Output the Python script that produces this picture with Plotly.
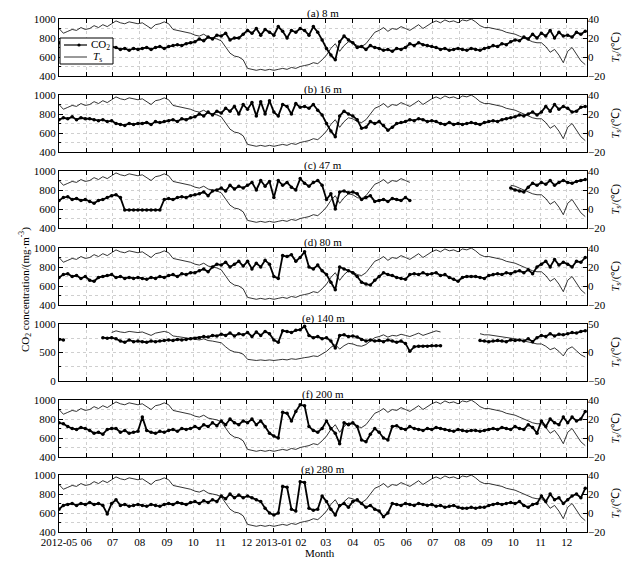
import pandas as pd
import plotly.graph_objects as go

# 5-day sampling of the daily records, May 2012 - Dec 2013
dates = pd.date_range("2012-05-01", periods=121, freq="5D")
month_ticks = pd.date_range("2012-05-01", "2013-12-01", freq="MS")
month_labels = ["2012-05", "06", "07", "08", "09", "10", "11", "12",
                "2013-01", "02", "03", "04", "05", "06", "07", "08", "09", "10", "11", "12"]

panel_titles = ["(a) 8 m", "(b) 16 m", "(c) 47 m", "(d) 80 m",
                "(e) 140 m", "(f) 200 m", "(g) 280 m"]

# air temperature (deg C), shared by all heights
ts = [30, 25, 27, 29, 28, 31, 29,
      30, 33, 31, 34, 32, 35,
      38, 36, 35, 37, 36, 35,
      36, 33, 30, 34, 35, 37,
      35, 29, 28, 27, 26, 25,
      23, 22, 24, 21, 20, 19,
      17, 10, 4, 1, 0, -3,
      -12, -13, -14, -13, -14, -13,
      -14, -13, -12, -13, -11, -12, -10,
      -9, -8, -6, -7, -3,
      2, 9, 14, 6, 12, 16,
      15, 12, 11, 14, 20, 26,
      28, 31, 27, 30, 29, 32, 30,
      28, 31, 34, 30, 33, 36,
      38, 36, 39, 37, 38, 36,
      39, 38, 40, 37, 33, 31,
      31, 30, 29, 28, 26, 25,
      24, 22, 20, 18, 16, 15,
      15, 11, 5, 8, 2, -6,
      6, 10, 3, -4, -8]

co2_a = [750, 720, 700, 690, 700, 690, 700,
         690, 700, 710, 690, 700, 710,
         700, 680, 690, 670, 690, 680,
         690, 700, 680, 700, 710, 690,
         710, 720, 730, 720, 740, 750,
         760, 790, 770, 810, 790, 830,
         820, 850, 780, 800, 800, 840,
         880, 850, 900, 830, 890, 860,
         830, 920, 870, 800, 880, 860, 900,
         880, 830, 920, 860, 780,
         690, 620, 570, 760, 820, 780,
         750, 700, 710, 680, 720, 700,
         690, 670, 680, 660, 690, 680, 700,
         740, 720, 750, 730, 720, 710,
         700, 680, 690, 670, 680, 690,
         680, 670, 690, 680, 670, 690,
         700, 720, 710, 740, 730, 760,
         780, 770, 810, 790, 840, 800,
         850, 820, 880, 800, 860, 820,
         830, 810, 860, 840, 870]

co2_b = [740, 760, 750, 770, 740, 760, 750,
         750, 740, 730, 740, 720, 730,
         700, 690, 680, 700, 690, 700,
         700, 710, 690, 720, 710, 720,
         730, 740, 720, 750, 740, 760,
         770, 800, 780, 820, 790, 830,
         810, 860, 830, 880, 800, 900,
         850, 920, 780, 930, 800, 940,
         820, 780, 900, 880, 800, 910, 870,
         880, 860, 900, 840, 790,
         700, 620, 560, 780, 830, 800,
         780, 740, 650, 660, 720, 700,
         720, 680, 630, 660, 700, 710, 720,
         740, 730, 750, 740, 720, 730,
         720, 700, 690, 710, 690, 700,
         690, 700, 710, 700, 690, 710,
         720, 730, 720, 740, 750, 760,
         770, 790, 780, 800, 820, 790,
         820, 880, 830, 900, 850, 880,
         860, 820, 830, 870, 880]

co2_c = [690, 720, 730, 700, 710, 690, 700,
         680, 660, 690, 700, 720, 740,
         750, 720, 590, 590, 590, 590,
         590, 590, 590, 590, 590, 700,
         710, 700, 720, 730, 720, 740,
         750, 760, 780, 740, 790, 800,
         820, 790, 850, 810, 840, 820,
         850, 880, 800, 900, 840, 890,
         720, 900, 850, 880, 830, 800, 920,
         870, 840, 880, 900, 850,
         700, 760, 600, 780, 790, 770,
         780, 760, 700, 720, 740, 680,
         690, 700, 680, 710, 700, 690, 720,
         690, None, None, None, None, None,
         None, None, None, None, None, None,
         None, None, None, None, None, None,
         None, None, None, None, None, 820,
         800, 790, 780, 830, 870, 850,
         880, 860, 900, 850, 880, 900,
         880, 870, 890, 900, 910]

co2_d = [690, 720, 730, 700, 710, 680, 700,
         660, 650, 690, 700, 710, 720,
         690, 700, 680, 690, 680, 690,
         680, 670, 690, 680, 700, 690,
         710, 720, 700, 730, 720, 740,
         740, 760, 780, 750, 800, 830,
         820, 850, 800, 830, 860, 810,
         860, 780, 840, 800, 870, 830,
         700, 680, 920, 910, 930, 860, 900,
         960, 800, 780, 820, 760,
         720, 640, 560, 800, 780, 760,
         740, 700, 640, 620, 610, 660,
         700, 740, 720, 710, 690, 680, 670,
         720, 730, 720, 740, 720, 730,
         740, 710, 720, 690, 670, 650,
         690, 700, 700, 700, 690, 680,
         710, 720, 730, 720, 740, 730,
         750, 760, 740, 770, 730, 800,
         830, 860, 800, 880, 820, 850,
         830, 800, 860, 850, 900]

co2_e = [730, 720, None, None, None, None, None,
         None, None, None, 760, 750, 760,
         740, 700, 680, 720, 690, 700,
         690, 680, 700, 690, 700, 710,
         720, 710, 730, 720, 730, 740,
         750, 760, 780, 770, 800, 790,
         820, 800, 840, 790, 830, 810,
         850, 780, 860, 800, 870, 830,
         720, 680, 880, 870, 850, 890, 900,
         960, 800, 760, 780, 740,
         760, 700, 580, 800, 810, 780,
         790, 770, 730, 700, 720, 700,
         710, 690, 720, 700, 680, 700, 660,
         520, 600, 610, 610, 610, 620,
         620, 620, None, None, None, None,
         None, None, None, None, 710, 700,
         690, 700, 710, 700, 690, 720,
         710, 720, 700, 740, 690, 760,
         800, 780, 830, 790, 820, 810,
         830, 850, 840, 870, 880]

co2_f = [760, 750, 720, 700, 690, 710, 700,
         680, 650, 660, 640, 690, 700,
         700, 660, 680, 650, 660, 670,
         820, 680, 660, 650, 670, 660,
         680, 690, 670, 700, 690, 700,
         720, 700, 740, 720, 760, 730,
         780, 740, 800, 760, 740, 780,
         760, 800, 740, 780, 720, 650,
         620, 600, 870, 860, 780, 880, 950,
         940, 720, 680, 660, 700,
         780, 700, 650, 540, 760, 740,
         760, 720, 580, 560, 640, 700,
         660, 600, 580, 720, 730, 700, 690,
         720, 700, 690, 680, 700, 690,
         710, 700, 690, 680, 670, 690,
         680, 670, 680, 680, 670, 680,
         690, 700, 690, 710, 700, 690,
         720, 700, 690, 740, 710, 650,
         780, 720, 800, 760, 740, 820,
         760, 820, 780, 800, 880]

co2_g = [640, 680, 690, 700, 680, 700, 690,
         710, 690, 700, 680, 590, 700,
         740, 680, 690, 670, 680, 690,
         680, 670, 690, 680, 670, 690,
         700, 690, 710, 700, 690, 710,
         720, 700, 730, 710, 740, 720,
         780, 750, 800, 760, 790, 760,
         780, 760, 740, 720, 650, 600,
         580, 600, 880, 870, 640, 620, 930,
         920, 650, 630, 640, 780,
         720, 640, 580, 680, 700, 660,
         720, 740, 700, 660, 680, 640,
         620, 560, 600, 700, 690, 680, 700,
         690, 680, 700, 690, 680, 690,
         670, 680, 660, 670, 680, 660,
         650, 650, 660, 650, 660, 660,
         680, 690, 700, 690, 700, 710,
         700, 720, 680, 660, 690, 700,
         780, 720, 800, 740, 760, 700,
         740, 780, 800, 760, 860]

co2_series = [co2_a, co2_b, co2_c, co2_d, co2_e, co2_f, co2_g]

# periods with no temperature record
ts_gaps = {2: [("2013-06-06", "2013-09-25")],
           4: [("2012-05-01", "2012-06-28"), ("2013-07-12", "2013-08-21")]}

co2_ranges = [[400, 1000]] * 4 + [[0, 1000]] + [[400, 1000]] * 2
ts_ranges = [[-20, 40]] * 4 + [[-50, 50]] + [[-20, 40]] * 2

FONT = dict(family="Liberation Serif", size=11, color="black")
GRID = "#cfcfcf"

# panel pixel geometry (page pixels; the page body adds an 8 px offset)
tops = [19, 95, 171, 248, 324, 400, 475]
ph = 57
y_top, y_bot = 19, 532
x_left, x_right = 59, 587
span = y_bot - y_top
width = x_right - x_left
OFF = 8


def px(x):
    return (x - x_left) / width


def py(y):
    return (y_bot - y) / span


fig = go.Figure()
layout = {}
annotations = []

for k in range(7):
    xname = "xaxis" if k == 0 else f"xaxis{k + 1}"
    xref = "x" if k == 0 else f"x{k + 1}"
    yl_name = "yaxis" if k == 0 else f"yaxis{2 * k + 1}"
    yl_ref = "y" if k == 0 else f"y{2 * k + 1}"
    yr_name = f"yaxis{2 * k + 2}"
    yr_ref = f"y{2 * k + 2}"

    s = pd.Series(ts, index=dates, dtype=float)
    for a, b in ts_gaps.get(k, []):
        s[a:b] = float("nan")
    ts_k = [None if pd.isna(v) else v for v in s]

    fig.add_trace(go.Scatter(
        x=dates, y=co2_series[k], xaxis=xref, yaxis=yl_ref,
        mode="lines+markers", name="CO2", showlegend=False,
        line=dict(color="black", width=1.8), marker=dict(size=3.5, color="black"),
        connectgaps=False))
    fig.add_trace(go.Scatter(
        x=dates, y=ts_k, xaxis=xref, yaxis=yr_ref,
        mode="lines", name="Ts", showlegend=False,
        line=dict(color="black", width=0.8), connectgaps=False))

    d0 = max(0.0, py(tops[k] + ph))
    d1 = min(1.0, py(tops[k]))
    big = co2_ranges[k][0] == 0

    layout[xname] = dict(
        domain=[0, 1], anchor=yl_ref, range=["2012-05-01", "2013-12-24"],
        tickmode="array", tickvals=list(month_ticks), ticktext=month_labels,
        showticklabels=(k == 6), ticks="inside", ticklen=4, tickcolor="black",
        mirror="ticks", showline=True, linecolor="black", linewidth=1,
        showgrid=True, gridcolor=GRID, griddash="dot", gridwidth=1,
        tickfont=FONT, zeroline=False, automargin=False)
    layout[yl_name] = dict(
        domain=[d0, d1], anchor=xref, range=co2_ranges[k],
        dtick=500 if big else 200, ticks="inside", ticklen=4, tickcolor="black",
        showline=True, linecolor="black", linewidth=1, mirror=True,
        showgrid=True, gridcolor=GRID, griddash="dot", gridwidth=1,
        minor=dict(dtick=250 if big else 100, ticks="inside", ticklen=2,
                   tickcolor="black", showgrid=True, gridcolor=GRID, griddash="dot"),
        tickfont=FONT, zeroline=False, automargin=False)
    layout[yr_name] = dict(
        overlaying=yl_ref, side="right", anchor=xref, range=ts_ranges[k],
        dtick=50 if big else 20, ticks="inside", ticklen=4, tickcolor="black",
        showline=False, showgrid=False, zeroline=False, tickfont=FONT,
        automargin=False)

    annotations.append(dict(
        text=panel_titles[k], xref="paper", yref="paper", x=0.5, y=d1,
        xanchor="center", yanchor="bottom", yshift=-3, showarrow=False, font=FONT))
    annotations.append(dict(
        text="<i>T</i><sub>s</sub>/(℃)", xref="paper", yref="paper",
        x=px(615), y=(d0 + d1) / 2, xanchor="center", yanchor="middle",
        textangle=-90, showarrow=False, font=FONT))

annotations.append(dict(
    text="CO<sub>2</sub> concentration/(mg·m<sup>-3</sup>)", xref="paper", yref="paper",
    x=px(25), y=py(290), xanchor="center", yanchor="middle", textangle=-90,
    showarrow=False, font=FONT))
annotations.append(dict(
    text="Month", xref="paper", yref="paper", x=px(320), y=py(553),
    xanchor="center", yanchor="middle", showarrow=False, font=FONT))

# legend box drawn in panel (a)
LEG = dict(family="Liberation Serif", size=11, color="black")
shapes = [
    dict(type="rect", xref="paper", yref="paper", x0=px(60), x1=px(113),
         y0=py(64), y1=py(38), line=dict(color="black", width=1), fillcolor="white",
         layer="above"),
    dict(type="line", xref="paper", yref="paper", x0=px(64), x1=px(87),
         y0=py(45), y1=py(45), line=dict(color="black", width=1.2), layer="above"),
    dict(type="circle", xref="paper", yref="paper", xsizemode="pixel", ysizemode="pixel",
         xanchor=px(79), yanchor=py(45), x0=-1.6, x1=1.6, y0=-1.6, y1=1.6,
         fillcolor="black", line=dict(color="black", width=0), layer="above"),
    dict(type="line", xref="paper", yref="paper", x0=px(64), x1=px(87),
         y0=py(57), y1=py(57), line=dict(color="black", width=0.8), layer="above"),
]
annotations.append(dict(
    text="CO<sub>2</sub>", xref="paper", yref="paper", x=px(89), y=py(45),
    xanchor="left", yanchor="middle", showarrow=False, font=LEG))
annotations.append(dict(
    text="<i>T</i><sub>s</sub>", xref="paper", yref="paper", x=px(91), y=py(57),
    xanchor="left", yanchor="middle", showarrow=False, font=LEG))

fig.update_layout(
    width=639, height=563,
    margin=dict(l=x_left - OFF, r=639 - (x_right - OFF), t=y_top - OFF,
                b=563 - (y_bot - OFF), autoexpand=False),
    paper_bgcolor="white", plot_bgcolor="white",
    font=FONT, showlegend=False,
    annotations=annotations, shapes=shapes,
    **layout)

fig.write_html("out.html")
